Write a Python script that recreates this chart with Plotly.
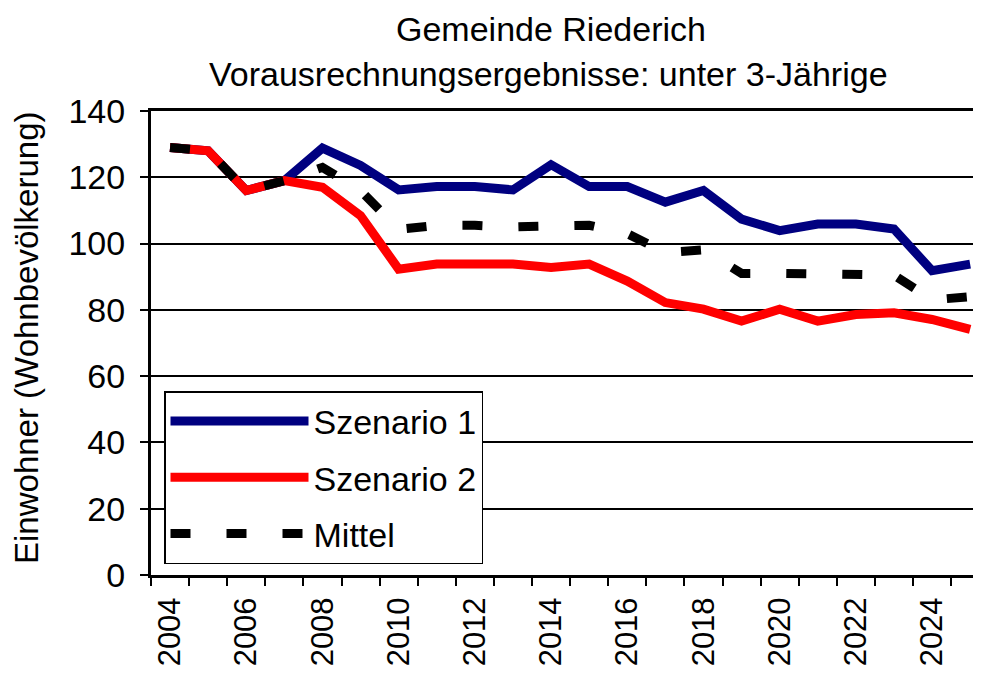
import plotly.graph_objects as go

years = list(range(2004, 2026))
szenario1 = [129, 128, 116, 119, 128.8, 123.6, 116.2, 117.2, 117.2, 116.2, 123.8, 117.2,
             117.2, 112.5, 116, 107.4, 103.9, 105.9, 105.9, 104.4, 91.8, 93.8]
szenario2 = [129, 128, 116, 119, 117, 108.4, 92.3, 93.8, 93.8, 93.8, 92.8, 93.8,
             88.7, 82.2, 80.2, 76.6, 80.2, 76.6, 78.6, 79.1, 77.1, 74.1]
mittel = [129, 128, 116, 119, 123, 116, 104.3, 105.5, 105.5, 105, 105.3, 105.5,
          103, 97.3, 98.1, 91, 91, 91, 91, 90.5, 83, 84]
tick_years = list(range(2004, 2025, 2))
tick_labels = [str(y) for y in tick_years]
boundaries = [y - 0.5 for y in range(2004, 2027)]
y_ticks = [0, 20, 40, 60, 80, 100, 120, 140]

FONT = "Liberation Sans"
OFF = 8  # page body margin on each side
W, H = 981 - 2 * OFF, 675 - 2 * OFF
PLOT_L, PLOT_T, PLOT_B = 151 - OFF, 111 - OFF, 575 - OFF
ML, MR, MT, MB = PLOT_L, 0, PLOT_T, H - PLOT_B
PW, PH = W - ML - MR, H - MT - MB


def px(rx):
    return (rx - OFF - ML) / PW


def py(ry):
    return (PLOT_B - (ry - OFF)) / PH


fig = go.Figure()
fig.add_trace(go.Scatter(x=years, y=szenario1, mode="lines", name="Szenario 1",
                         legendgroup="a", line=dict(color="#000080", width=9)))
fig.add_trace(go.Scatter(x=years, y=szenario2, mode="lines", name="Szenario 2",
                         legendgroup="b", line=dict(color="#FF0000", width=9)))
fig.add_trace(go.Scatter(x=years, y=mittel, mode="lines", name="Mittel",
                         legendgroup="c", line=dict(color="#000000", width=9, dash="20px,36px")))
# invisible trace to hold the tick-mark axis
fig.add_trace(go.Scatter(x=[boundaries[0]], y=[0], xaxis="x2", mode="markers",
                         marker=dict(opacity=0), showlegend=False, hoverinfo="skip"))

xr = [2003.5, 2003.5 + PW / 38.1]

fig.update_layout(
    width=W, height=H,
    margin=dict(l=ML, r=MR, t=MT, b=MB, pad=0),
    paper_bgcolor="white", plot_bgcolor="white",
    font=dict(family=FONT, color="black", size=34),
    showlegend=True,
    legend=dict(
        x=px(164), y=py(391), xanchor="left", yanchor="top",
        bgcolor="white", bordercolor="black", borderwidth=1.5,
        font=dict(family=FONT, size=34, color="black"),
        itemwidth=138, tracegroupgap=9, traceorder="grouped",
    ),
    xaxis=dict(
        range=xr, tickmode="array", tickvals=tick_years, ticktext=tick_labels,
        tickangle=-90, ticks="", showgrid=False, zeroline=False,
        showline=True, linecolor="black", linewidth=3, mirror=True,
        ticklabelstandoff=7, tickfont=dict(family=FONT, size=31),
    ),
    xaxis2=dict(
        range=xr, overlaying="x", anchor="y", side="bottom",
        tickmode="array", tickvals=boundaries, ticks="outside", ticklen=10,
        tickwidth=2, tickcolor="black", showticklabels=False,
        showgrid=False, zeroline=False, showline=False,
    ),
    yaxis=dict(
        range=[0, 140], tickmode="array", tickvals=y_ticks,
        ticks="outside", ticklen=8, tickwidth=2, tickcolor="black",
        showgrid=True, gridcolor="black", gridwidth=1.5, zeroline=False,
        showline=True, linecolor="black", linewidth=3,
        ticklabelstandoff=8, tickfont=dict(family=FONT, size=34),
    ),
    annotations=[
        dict(text="Gemeinde Riederich", xref="paper", yref="paper",
             x=px(551), y=py(OFF), xanchor="center", yanchor="top",
             showarrow=False, font=dict(family=FONT, size=34, color="black")),
        dict(text="Vorausrechnungsergebnisse: unter 3-Jährige", xref="paper", yref="paper",
             x=px(548), y=py(74), xanchor="center", yanchor="middle",
             showarrow=False, font=dict(family=FONT, size=34, color="black")),
        dict(text="Einwohner (Wohnbevölkerung)", xref="paper", yref="paper",
             x=px(26), y=py(338), xanchor="center", yanchor="middle",
             textangle=-90, showarrow=False, font=dict(family=FONT, size=33, color="black")),
    ],
)

fig.write_html("out.html")
